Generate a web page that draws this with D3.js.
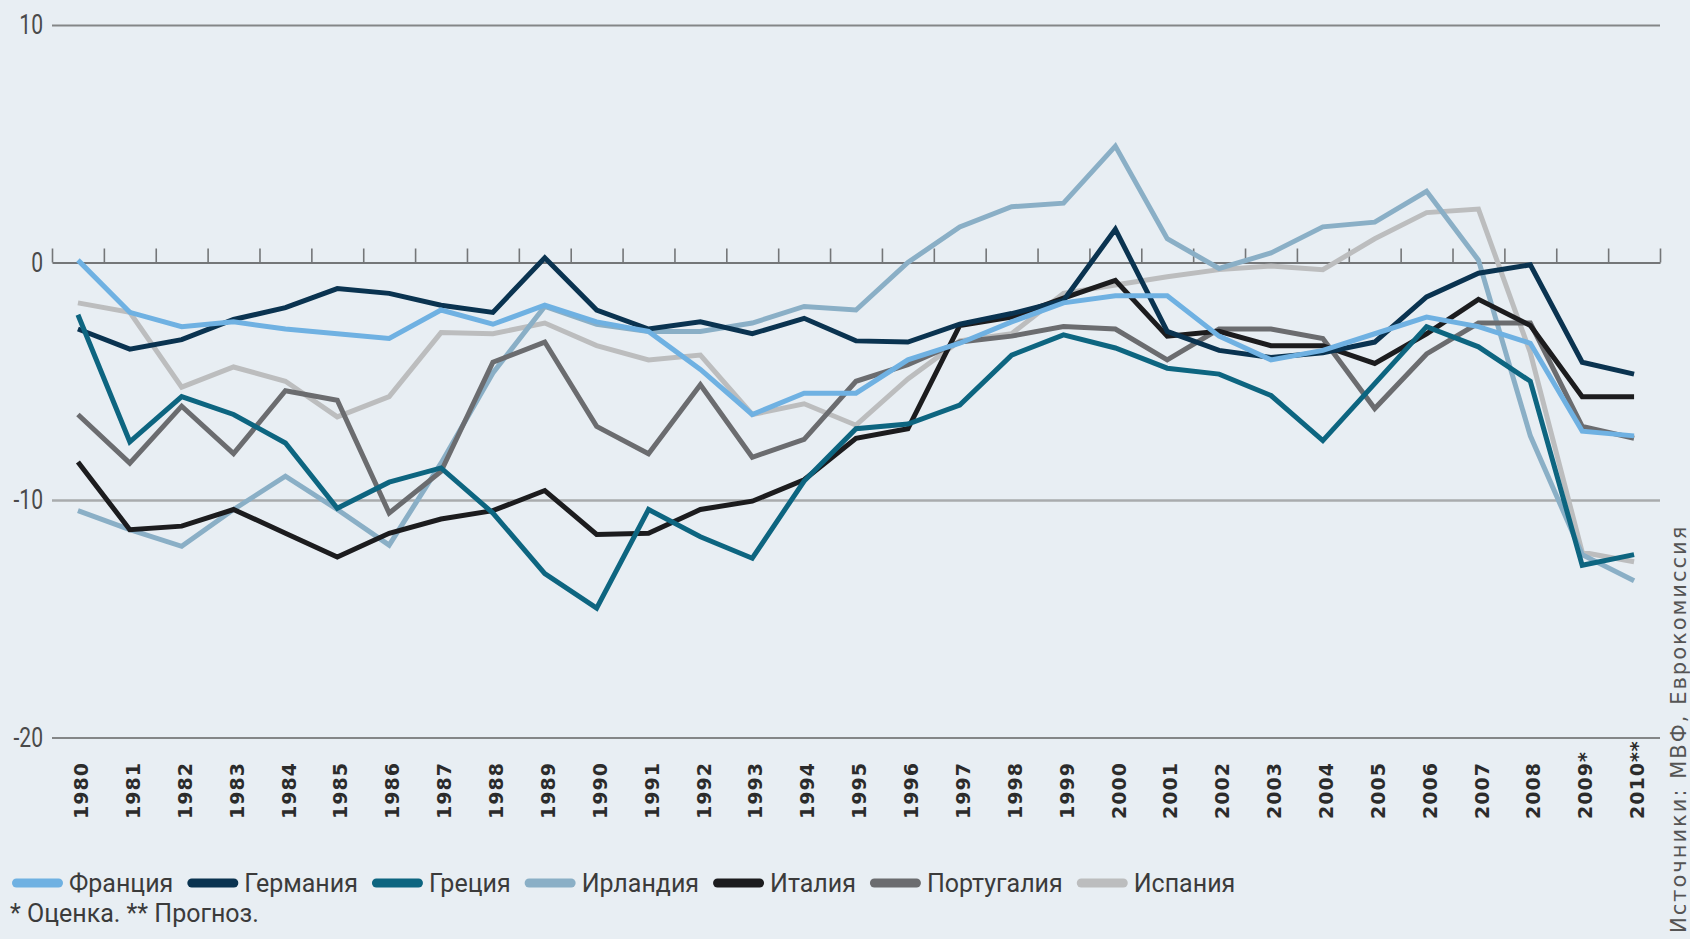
<!DOCTYPE html>
<html>
<head>
<meta charset="utf-8">
<script src="https://cdn.jsdelivr.net/npm/d3@7"></script>
<style>
  html, body { margin: 0; padding: 0; background: #e8eef3; }
  svg { display: block; }
</style>
</head>
<body>
<div id="chart"></div>
<script>
// years on the x axis (* estimate, ** forecast)
var years = ["1980","1981","1982","1983","1984","1985","1986","1987","1988","1989",
  "1990","1991","1992","1993","1994","1995","1996","1997","1998","1999",
  "2000","2001","2002","2003","2004","2005","2006","2007","2008","2009*","2010**"];

// budget balance, % of GDP
var france   = [0.1,-2.1,-2.7,-2.5,-2.8,-3.0,-3.2,-2.0,-2.6,-1.8,-2.5,-2.9,-4.5,-6.4,-5.5,-5.5,-4.1,-3.4,-2.5,-1.7,-1.4,-1.4,-3.1,-4.1,-3.7,-3.0,-2.3,-2.7,-3.4,-7.1,-7.3];
var germany  = [-2.8,-3.65,-3.25,-2.4,-1.9,-1.1,-1.3,-1.8,-2.1,0.2,-2.0,-2.8,-2.5,-3.0,-2.35,-3.3,-3.35,-2.6,-2.15,-1.6,1.4,-2.9,-3.7,-4.0,-3.8,-3.35,-1.45,-0.45,-0.1,-4.2,-4.7];
var greece   = [-2.2,-7.55,-5.65,-6.4,-7.6,-10.35,-9.25,-8.65,-10.55,-13.1,-14.55,-10.4,-11.55,-12.45,-9.2,-7.0,-6.8,-6.0,-3.9,-3.05,-3.6,-4.45,-4.7,-5.6,-7.5,-5.1,-2.7,-3.55,-5.0,-12.75,-12.3];
var ireland  = [-10.45,-11.25,-11.95,-10.4,-9.0,-10.4,-11.9,-8.45,-4.65,-1.85,-2.6,-2.9,-2.9,-2.55,-1.85,-2.0,0.0,1.5,2.35,2.5,4.9,1.0,-0.25,0.4,1.5,1.7,3.0,0.1,-7.3,-12.3,-13.4];
var italy    = [-8.4,-11.25,-11.1,-10.4,-11.4,-12.4,-11.4,-10.8,-10.45,-9.6,-11.45,-11.4,-10.4,-10.05,-9.15,-7.4,-7.0,-2.65,-2.3,-1.5,-0.75,-3.1,-2.9,-3.5,-3.5,-4.25,-3.0,-1.55,-2.65,-5.65,-5.65];
var portugal = [-6.4,-8.45,-6.05,-8.05,-5.4,-5.8,-10.55,-8.8,-4.2,-3.35,-6.9,-8.05,-5.15,-8.2,-7.45,-5.0,-4.3,-3.35,-3.1,-2.7,-2.8,-4.1,-2.8,-2.8,-3.2,-6.15,-3.85,-2.55,-2.55,-6.9,-7.4];
var spain    = [-1.7,-2.1,-5.25,-4.4,-5.0,-6.5,-5.65,-2.95,-3.0,-2.55,-3.5,-4.1,-3.9,-6.4,-5.95,-6.85,-4.9,-3.3,-3.0,-1.3,-0.95,-0.6,-0.3,-0.15,-0.3,1.0,2.1,2.25,-3.8,-12.2,-12.6];

var names  = ["Франция","Германия","Греция","Ирландия","Италия","Португалия","Испания"];
var colors = ["#6fb1e2","#0a3350","#0d6580","#8aafc6","#1c1c1e","#6b6c6f","#bcbdbe"];
var values = [france, germany, greece, ireland, italy, portugal, spain];
var drawOrder = [6, 3, 5, 4, 1, 2, 0];   // which series go on top

var yTicks = [10, 0, -10, -20];
var footnote = "* Оценка. ** Прогноз.";
var source = "Источники: МВФ, Еврокомиссия";

var svgWidth = 1690, svgHeight = 939;
var margin = {top: 25, left: 52};
var width = 1660 - margin.left;
var height = 737.5 - margin.top;

var svg = d3.select("#chart").append("svg")
  .attr("width", svgWidth)
  .attr("height", svgHeight);

svg.append("rect")
  .attr("width", svgWidth)
  .attr("height", svgHeight)
  .attr("fill", "#e8eef3");

var chartGroup = svg.append("g")
  .attr("transform", `translate(${margin.left}, ${margin.top})`);

var x = d3.scalePoint().domain(years).range([0, width]).padding(0.5);
var y = d3.scaleLinear().domain([-20, 10]).range([height, 0]);

// horizontal grid lines + y labels
var leftAxis = d3.axisLeft(y).tickValues(yTicks).tickSize(-width).tickPadding(9)
  .tickFormat(d => d);
var yAxis = chartGroup.append("g").call(leftAxis);
yAxis.select(".domain").remove();
yAxis.selectAll(".tick line")
  .attr("stroke", d => d === -10 ? "#a9abad" : "#848687")
  .attr("stroke-width", d => d === -10 ? 2.5 : 2)
  .attr("opacity", d => d === 0 ? 0 : 1);
// condensed look for the y labels
yAxis.selectAll(".tick text")
  .attr("x", -9 / 0.78)
  .attr("transform", "scale(0.78,1)")
  .attr("font-family", "Roboto, sans-serif")
  .attr("font-size", "27px")
  .attr("fill", "#4a4a4a");

// zero line with small ticks on band edges
var edge = d3.scaleLinear().domain([0, years.length]).range([0, width]);
var zeroAxis = chartGroup.append("g")
  .attr("transform", `translate(0, ${y(0)})`)
  .call(d3.axisTop(edge).tickValues(d3.range(years.length + 1)).tickSize(14).tickSizeOuter(0).tickFormat(""));
zeroAxis.select(".domain").attr("stroke", "#747678").attr("stroke-width", 2);
zeroAxis.selectAll(".tick line").attr("stroke", "#747678").attr("stroke-width", 1.6);

// year labels, rotated
var xAxis = chartGroup.append("g")
  .attr("transform", `translate(0, ${height})`)
  .call(d3.axisBottom(x).tickSize(0));
xAxis.select(".domain").remove();
xAxis.selectAll(".tick text")
  .attr("transform", "rotate(-90)")
  .attr("text-anchor", "start")
  .attr("x", -81.5)
  .attr("y", 3)
  .attr("dy", "0.35em")
  .attr("font-family", "'DejaVu Sans', sans-serif")
  .attr("font-weight", "bold")
  .attr("font-size", "19px")
  .attr("letter-spacing", "1px")
  .attr("fill", "#2b2b2b");

// lines
var line = d3.line()
  .x((d, i) => x(years[i]))
  .y(d => y(d));

drawOrder.forEach(function(k) {
  chartGroup.append("path")
    .datum(values[k])
    .attr("fill", "none")
    .attr("stroke", colors[k])
    .attr("stroke-width", 5)
    .attr("stroke-linejoin", "miter")
    .attr("d", line);
});

// legend
var legend = svg.append("g").attr("transform", "translate(12, 883)");
var lx = 0;
names.forEach(function(name, i) {
  legend.append("line")
    .attr("x1", lx + 4.5).attr("x2", lx + 46.5)
    .attr("y1", 0).attr("y2", 0)
    .attr("stroke", colors[i])
    .attr("stroke-width", 9)
    .attr("stroke-linecap", "round");
  var t = legend.append("text")
    .attr("x", lx + 57)
    .attr("y", 9)
    .attr("font-family", "Roboto, sans-serif")
    .attr("font-size", "25px")
    .attr("fill", "#3b3b3b")
    .text(name);
  lx = lx + 57 + t.node().getComputedTextLength() + 14;
});

svg.append("text")
  .attr("x", 10)
  .attr("y", 922)
  .attr("font-family", "Roboto, sans-serif")
  .attr("font-size", "25px")
  .attr("fill", "#3b3b3b")
  .text(footnote);

svg.append("text")
  .attr("transform", "translate(1686, 933) rotate(-90)")
  .attr("font-family", "'DejaVu Sans', sans-serif")
  .attr("font-size", "21px")
  .attr("letter-spacing", "2px")
  .attr("fill", "#555")
  .text(source);
</script>
</body>
</html>
